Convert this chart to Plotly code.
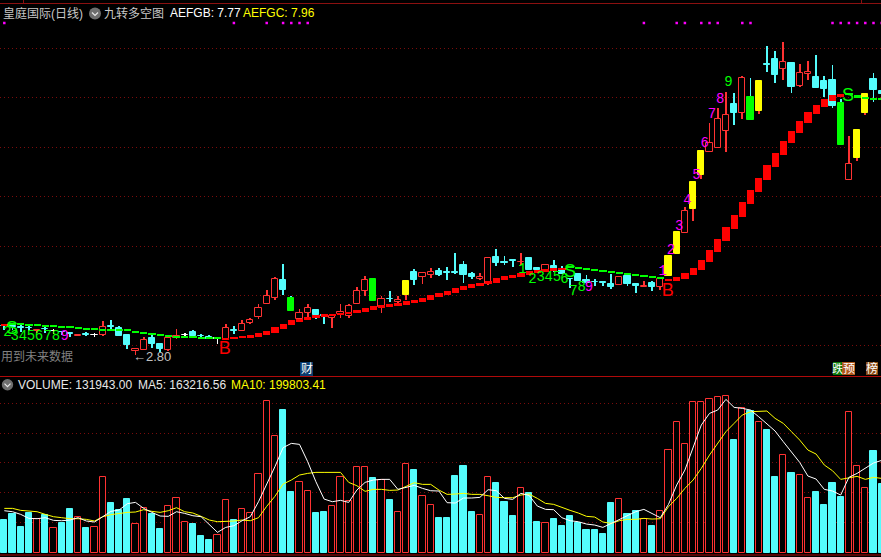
import plotly.graph_objects as go

# ---------- price data (one value per trading day) ----------
OPEN = [3.29,3.29,3.26,3.25,3.19,3.23,3.18,3.17,3.15,3.09,3.12,3.10,3.11,3.28,3.25,3.10,2.79,2.80,3.04,2.92,
        2.80,3.05,3.10,3.16,3.09,3.07,3.03,3.03,3.20,3.19,3.35,3.47,3.73,3.84,4.20,3.84,3.42,3.55,3.60,3.51,
        3.45,3.53,3.48,3.73,3.98,4.22,3.67,3.83,3.76,3.90,4.36,4.27,4.31,4.38,4.36,4.36,4.50,4.32,4.23,4.13,
        4.66,4.56,4.60,4.56,4.64,4.45,4.38,4.48,4.41,4.23,4.32,4.20,4.17,4.16,4.13,4.11,4.29,4.13,4.06,4.14,
        4.07,4.28,4.72,5.15,5.62,6.30,6.77,6.85,7.19,7.72,7.55,7.86,7.58,8.52,8.62,8.43,8.54,8.09,8.33,8.26,
        8.18,8.20,7.74,6.21,6.64,7.54,8.22,7.98]
CLOSE = [3.28,3.27,3.25,3.24,3.21,3.22,3.18,3.16,3.13,3.11,3.11,3.10,3.27,3.27,3.08,2.90,2.82,3.00,2.92,2.82,
         3.05,3.08,3.10,3.08,3.08,3.03,3.03,3.25,3.19,3.33,3.41,3.65,3.89,4.23,4.00,3.59,3.55,3.65,3.50,3.49,
         3.48,3.57,3.69,3.99,4.21,3.78,3.83,3.82,3.80,4.18,4.20,4.35,4.37,4.30,4.35,4.35,4.30,4.26,4.26,4.64,
         4.54,4.55,4.59,4.57,4.40,4.41,4.50,4.43,4.32,4.22,4.18,4.14,4.16,4.15,4.06,4.27,4.12,4.08,4.09,4.06,
         4.23,4.68,5.16,5.59,6.16,6.78,6.95,7.43,7.51,7.54,8.25,7.40,8.18,8.51,8.30,8.57,8.06,8.35,8.37,8.04,
         8.02,7.68,6.90,6.53,7.20,7.92,8.00,7.92]
HIGH = [3.31,3.31,3.31,3.31,3.23,3.28,3.23,3.19,3.16,3.13,3.16,3.14,3.38,3.40,3.28,3.10,2.82,3.07,3.13,2.95,
        3.07,3.22,3.15,3.20,3.13,3.10,3.03,3.32,3.28,3.41,3.45,3.72,4.01,4.26,4.52,3.88,3.63,3.72,3.60,3.51,
        3.53,3.72,3.72,4.06,4.28,4.22,3.88,3.98,3.88,4.18,4.42,4.37,4.44,4.44,4.46,4.74,4.58,4.36,4.34,4.66,
        4.82,4.68,4.60,4.74,4.64,4.45,4.50,4.60,4.48,4.23,4.35,4.30,4.23,4.18,4.32,4.27,4.29,4.13,4.18,4.18,
        4.25,4.68,5.16,5.66,6.16,6.78,7.34,7.64,7.96,7.94,8.28,8.24,8.18,8.88,8.78,8.96,8.56,8.52,8.58,8.70,
        8.28,8.50,7.82,7.08,7.20,7.92,8.34,7.98]
LOW = [3.21,3.21,3.17,3.19,3.15,3.15,3.12,3.10,3.07,3.08,3.08,3.06,3.09,3.23,3.08,2.82,2.70,2.80,2.85,2.76,
       2.78,3.02,3.05,3.08,3.03,3.03,2.93,3.00,3.12,3.19,3.33,3.42,3.73,3.80,3.90,3.59,3.42,3.45,3.43,3.32,
       3.25,3.44,3.45,3.73,3.89,3.78,3.55,3.76,3.70,3.80,4.10,4.12,4.25,4.28,4.20,4.32,4.14,4.22,4.20,4.10,
       4.48,4.50,4.46,4.50,4.40,4.36,4.37,4.36,4.32,4.04,4.18,4.13,4.08,4.08,4.02,4.11,4.08,3.94,4.06,3.98,
       4.00,4.28,4.72,5.15,5.38,6.22,6.77,6.85,6.76,7.30,7.42,7.40,7.52,8.36,8.14,8.20,7.94,8.06,8.20,8.04,
       7.86,7.64,6.90,6.21,6.58,7.50,7.76,7.92]
YELLOW_DAYS = [49,81,82,84,85,92,104,105]
GREEN_DAYS = [35,45,91,102]

# stepped trend line and the days on which it is bearish (green)
TREND = [3.31,3.30,3.31,3.29,3.28,3.26,3.26,3.25,3.24,3.22,3.21,3.20,3.19,3.19,3.19,3.18,3.15,3.12,3.10,3.08,
         3.06,3.05,3.05,3.04,3.03,3.03,3.03,3.05,3.07,3.08,3.10,3.14,3.18,3.26,3.33,3.40,3.43,3.47,3.50,3.52,
         3.53,3.55,3.57,3.60,3.64,3.68,3.70,3.72,3.74,3.78,3.80,3.84,3.90,3.94,3.98,4.04,4.08,4.12,4.15,4.18,
         4.24,4.28,4.30,4.34,4.38,4.40,4.42,4.44,4.44,4.44,4.43,4.41,4.39,4.36,4.34,4.32,4.30,4.28,4.26,4.24,
         4.22,4.21,4.26,4.34,4.44,4.60,4.80,5.02,5.26,5.50,5.76,6.00,6.24,6.50,6.74,6.98,7.18,7.38,7.56,7.70,
         7.82,7.90,7.92,7.90,7.85,7.83,7.81,7.81]
BEAR_RANGES = [(1,26),(69,80),(103,107)]

# ---------- volume data, in thousands ----------
VOLUME = [62.7,74.2,49.3,76.2,64.6,72.3,46.7,57.0,83.8,67.8,47.4,48.6,144.6,95.4,81.9,103.0,54.4,85.1,74.2,45.4,
          89.0,104.3,58.2,55.0,32.0,24.3,33.3,100.5,62.7,83.2,75.5,150.4,290.6,223.4,273.9,116.5,135.0,117.8,76.2,78.1,
          89.0,144.6,98.6,163.8,163.8,143.4,138.9,101.1,77.4,169.6,158.7,108.2,90.9,66.6,66.6,147.2,166.4,78.1,71.7,144.6,
          133.8,97.3,70.4,123.5,113.9,58.9,56.3,64.6,51.2,70.4,57.0,43.5,43.5,35.8,95.4,102.4,74.2,80.0,65.3,51.2,
          79.4,196.5,250.2,208.0,288.6,288.6,294.4,298.2,300.2,216.3,277.1,272.0,250.2,235.5,145.3,186.9,153.0,148.5,104.3,116.5,
          91.5,133.8,106.9,269.4,165.8,123.5,195.2,131.8]
VOL_DOWN_DAYS = [0,1,2,3,5,7,8,10,13,14,15,18,19,23,24,25,28,34,35,38,39,45,47,50,53,54,55,56,57,60,61,62,64,65,67,68,69,70,71,
                 72,73,74,76,77,79,89,91,93,94,96,99,100,101,102,106,107]
MA5 = [80.6,78.7,73.6,65.9,65.3,67.2,62.1,61.4,62.7,67.2,60.8,58.9,69.1,79.4,81.9,94.1,96.6,85.1,77.4,70.4,
       69.8,78.7,75.5,71.0,69.1,54.4,39.0,48.6,51.8,61.4,69.1,97.9,129.9,165.1,201.6,209.9,208.0,174.7,136.3,103.0,
       97.9,100.5,96.6,120.3,135.0,139.5,140.8,140.8,121.6,124.8,129.3,123.5,119.0,118.4,96.0,95.4,105.0,105.0,106.2,121.0,
       119.0,104.3,102.4,113.9,110.1,89.6,83.2,82.6,67.2,61.4,59.5,55.0,53.1,48.6,56.3,64.6,72.3,78.7,83.2,74.9,
       67.2,92.8,129.9,158.7,201.6,245.1,267.5,273.9,294.4,279.0,277.1,273.9,261.1,246.4,233.6,213.1,192.6,173.4,147.2,141.4,
       121.6,118.4,110.7,144.6,152.3,161.9,172.2,177.3]
MA10 = [85.1,85.1,81.3,80.6,78.7,73.6,69.1,67.2,65.3,65.3,64.0,60.8,69.1,73.0,75.5,77.4,78.1,82.6,79.4,77.4,
        80.6,86.4,78.7,76.2,69.8,62.7,59.5,59.5,60.8,62.7,61.4,67.2,89.0,108.2,131.8,139.5,149.1,152.3,154.2,154.2,
        154.2,154.2,135.0,128.6,117.8,121.6,121.6,119.7,120.3,128.0,134.4,131.2,131.2,120.3,112.0,112.6,113.9,112.0,112.0,109.4,
        106.2,105.6,105.6,110.7,112.6,104.3,94.7,92.8,86.4,81.3,76.2,69.8,68.5,58.9,56.3,61.4,64.0,64.0,65.9,64.6,
        65.3,88.3,104.3,123.5,139.5,161.9,187.5,209.9,232.3,248.3,264.3,270.7,270.7,272.0,257.9,248.3,232.3,216.3,197.1,189.4,
        168.3,157.4,140.8,143.4,146.6,140.8,144.6,142.7]

# ---------- annotation data ----------
SIGNAL_DAYS = [0,28,32,34,35,36,37,78,82,83,85,86,87,90,91,101,102,103,104,105,106,107]
SIGNAL_LEVEL = 9.34
COUNT_TEXT = ["2","3","4","5","6","7","8","9",
              "1","2","3","4","5","6","7","8","9",
              "1","2","3","4","5","6","7","8","9"]
COUNT_X = [0.37,1.27,2.28,3.26,4.23,5.3,6.3,7.37,
           63.2,64.4,65.4,66.4,67.4,68.3,69.4,70.4,71.3,
           80.3,81.3,82.3,83.3,84.4,85.4,86.3,87.3,88.3]
COUNT_Y = [3.15,3.08,3.08,3.08,3.08,3.08,3.08,3.08,
           4.41,4.22,4.25,4.25,4.25,4.22,3.97,4.05,4.05,
           4.37,4.79,5.27,5.80,6.29,6.93,7.51,7.81,8.15]
COUNT_COLOR = ["#00FF00"]*7 + ["#FF00FF"] + ["#00FF00"]*8 + ["#FF00FF"] + ["#FF00FF"]*8 + ["#00FF00"]
TRADE_TEXT = ["S","B","S","B","S"]
TRADE_X = [0.94,26.9,69.0,80.9,102.9]
TRADE_Y = [3.22,2.82,4.35,3.97,7.88]
TRADE_COLOR = ["#00FF00","#FF0000","#00FF00","#FF0000","#00FF00"]
PRICE_GRID = [2.90,3.89,4.88,5.87,6.86,7.85,8.84]
VOLUME_GRID = [58.9,115.8,173.4,229.5,286.0]

# ---------- styling ----------
W, H = 881, 557
RED, CYAN, STAIR_RED = "#FF3232", "#54FCFC", "#FF0000"
GRID, FRAME = "#7A0C0C", "#A00808"
LATIN = "Liberation Sans, Noto Sans CJK SC"
MONO = "Liberation Mono"
STEP = 8.2
FULL_W = 7.2 / STEP
BODY_W = 6.3 / STEP
WICK_W = 0.9 / STEP
days = list(range(len(OPEN)))
fig = go.Figure()


def candle_kind(i):
    if i in YELLOW_DAYS: return "y"
    if i in GREEN_DAYS: return "g"
    if CLOSE[i] > OPEN[i]: return "r"
    if CLOSE[i] < OPEN[i]: return "c"
    return "w"


KINDS = [candle_kind(i) for i in days]
WICK_COL = {"y": RED, "r": RED, "g": CYAN, "c": CYAN, "w": "#FFFFFF"}

for col in (RED, CYAN, "#FFFFFF"):
    idx = [i for i in days if WICK_COL[KINDS[i]] == col]
    fig.add_bar(x=idx, base=[LOW[i] for i in idx], y=[HIGH[i] - LOW[i] for i in idx],
                width=WICK_W, marker=dict(color=col, line=dict(width=0)), xaxis="x", yaxis="y")

for kind, fill, line in (("c", CYAN, CYAN), ("r", "#000000", RED), ("w", "#FFFFFF", "#FFFFFF"),
                         ("y", "#FFFF00", "#FFFF00"), ("g", "#00FF00", "#00FF00")):
    idx = [i for i in days if KINDS[i] == kind]
    base = [min(OPEN[i], CLOSE[i]) for i in idx]
    size = [max(abs(CLOSE[i] - OPEN[i]), 0.01) for i in idx]
    fig.add_bar(x=idx, base=base, y=size, width=BODY_W,
                marker=dict(color=fill, line=dict(color=line, width=1)), xaxis="x", yaxis="y")

# stepped trend band
bear = {i for a, b in BEAR_RANGES for i in range(a, b + 1)}
for col, idx in ((STAIR_RED, [i for i in days if i not in bear]), ("#00FF00", sorted(bear))):
    base, size = [], []
    for i in idx:
        lo = min(TREND[i], TREND[max(i - 1, 0)])
        hi = max(TREND[i], TREND[max(i - 1, 0)])
        if col == STAIR_RED:
            lo -= 0.03
        base.append(lo)
        size.append(max(hi - lo, 0.04))
    fig.add_bar(x=idx, base=base, y=size, width=FULL_W,
                marker=dict(color=col, line=dict(width=0)), xaxis="x", yaxis="y")

fig.add_scatter(x=SIGNAL_DAYS, y=[SIGNAL_LEVEL] * len(SIGNAL_DAYS), mode="markers",
                marker=dict(symbol="square", size=2.5, color="#FF00FF", line=dict(width=0)), xaxis="x", yaxis="y")
fig.add_scatter(x=COUNT_X, y=COUNT_Y, mode="text", text=COUNT_TEXT, textposition="middle center",
                textfont=dict(family=MONO, size=14, color=COUNT_COLOR), xaxis="x", yaxis="y")
fig.add_scatter(x=TRADE_X, y=TRADE_Y, mode="text", text=TRADE_TEXT, textposition="middle center",
                textfont=dict(family=LATIN, size=18, color=TRADE_COLOR), xaxis="x", yaxis="y")

# volume pane
down = [i for i in days if i in VOL_DOWN_DAYS]
up = [i for i in days if i not in VOL_DOWN_DAYS]
fig.add_bar(x=down, y=[VOLUME[i] for i in down], width=BODY_W,
            marker=dict(color=CYAN, line=dict(color=CYAN, width=1)), xaxis="x2", yaxis="y2")
fig.add_bar(x=up, y=[VOLUME[i] for i in up], width=BODY_W,
            marker=dict(color="#000000", line=dict(color=RED, width=1)), xaxis="x2", yaxis="y2")
fig.add_scatter(x=days, y=MA10, mode="lines", line=dict(color="#FFFF00", width=1), xaxis="x2", yaxis="y2")
fig.add_scatter(x=days, y=MA5, mode="lines", line=dict(color="#FFFFFF", width=1), xaxis="x2", yaxis="y2")


def px(x): return x / W
def py(y): return 1 - y / H


def label(x, y, text, color, size=12, anchor="left"):
    return dict(xref="paper", yref="paper", x=px(x), y=py(y), text=text, showarrow=False,
                xanchor=anchor, yanchor="middle", align="left",
                font=dict(family=LATIN, size=size, color=color))


def rect(x0, y0, x1, y1, fill):
    return dict(type="rect", xref="paper", yref="paper", x0=px(x0), x1=px(x1), y0=py(y0), y1=py(y1),
                fillcolor=fill, line=dict(width=0), layer="below")


def hline(y, x0=0, x1=W, col=FRAME):
    return dict(type="line", xref="paper", yref="paper", x0=px(x0), x1=px(x1), y0=py(y), y1=py(y),
                line=dict(color=col, width=1))


def icon(cx, cy, r=5.7):
    chev = f"M {px(cx-3)} {py(cy-1)} L {px(cx)} {py(cy+2)} L {px(cx+3)} {py(cy-1)}"
    return [dict(type="circle", xref="paper", yref="paper", x0=px(cx - r), x1=px(cx + r), y0=py(cy - r), y1=py(cy + r),
                 fillcolor="#6E6E6E", line=dict(width=0)),
            dict(type="path", xref="paper", yref="paper", path=chev, line=dict(color="#E8E8E8", width=1.2))]


shapes = [hline(3.5, col="#8A1010"), hline(376.5, col="#B00A0A"), hline(555, col="#B00A0A"),
          dict(type="line", xref="paper", yref="paper", x0=px(23.5), x1=px(23.5), y0=py(0), y1=py(3.5), line=dict(color="#8A1010", width=1)),
          dict(type="line", xref="paper", yref="paper", x0=px(861.5), x1=px(861.5), y0=py(0), y1=py(3.5), line=dict(color="#8A1010", width=1)),
          rect(300, 362, 313, 376, "#0A3C6E"), rect(833, 362, 842, 375, "#0A7A0A"),
          rect(842, 362, 855, 375, "#B0561A"), rect(866, 362, 878, 375, "#8A4A14")]
shapes += icon(95, 13.5, 6) + icon(7.5, 384.7)

annotations = [
    label(1, 13, "皇庭国际(日线)", "#C8C8C8"),
    label(102, 13, "九转多空图", "#C8C8C8"),
    label(168, 13, "AEFGB: 7.77", "#FFFFFF"),
    label(241, 13, "AEFGC: 7.96", "#FFFF00"),
    label(16, 385, "VOLUME: 131943.00", "#E8E8E8"),
    label(136, 385, "MA5: 163216.56", "#E8E8E8"),
    label(229, 385, "MA10: 199803.41", "#FFFF00"),
    label(-1, 356, "用到未来数据", "#808080"),
    label(131, 356, "←2.80", "#C0C0C0", 13),
    label(306.5, 369, "财", "#FFFFFF", 12, "center"),
    label(837.5, 368.5, "跌", "#FFFFFF", 11, "center"),
    label(848.5, 368.5, "预", "#FFFFFF", 12, "center"),
    label(872, 368.5, "榜", "#FFFFFF", 12, "center"),
]

XR = [-4.3 / STEP, (W - 4.3) / STEP]
hidden_x = dict(range=XR, showgrid=False, zeroline=False, showticklabels=False, ticks="", showline=False)
grid_y = dict(showgrid=True, gridcolor=GRID, griddash="1px,3px", gridwidth=1, zeroline=False,
              showticklabels=False, ticks="", showline=False, tickmode="array")

fig.update_layout(
    width=W, height=H, margin=dict(l=0, r=0, t=0, b=0),
    paper_bgcolor="#000000", plot_bgcolor="#000000", showlegend=False,
    barmode="overlay", bargap=0, bargroupgap=0, hovermode=False,
    xaxis=dict(domain=[0, 1], anchor="y", **hidden_x),
    xaxis2=dict(domain=[0, 1], anchor="y2", **hidden_x),
    yaxis=dict(domain=[1 - 377 / H, 1], anchor="x", range=[9.8 - 377 / 50, 9.8], tickvals=PRICE_GRID, **grid_y),
    yaxis2=dict(domain=[0, 180 / H], anchor="x2", range=[-4.3 * 1.92, 175.7 * 1.92], tickvals=VOLUME_GRID, **grid_y),
    shapes=shapes, annotations=annotations,
)

fig.write_html("out.html", config=dict(displayModeBar=False),
               post_script="document.body.style.margin='0';document.body.style.background='#000';document.documentElement.style.overflow='hidden';")
